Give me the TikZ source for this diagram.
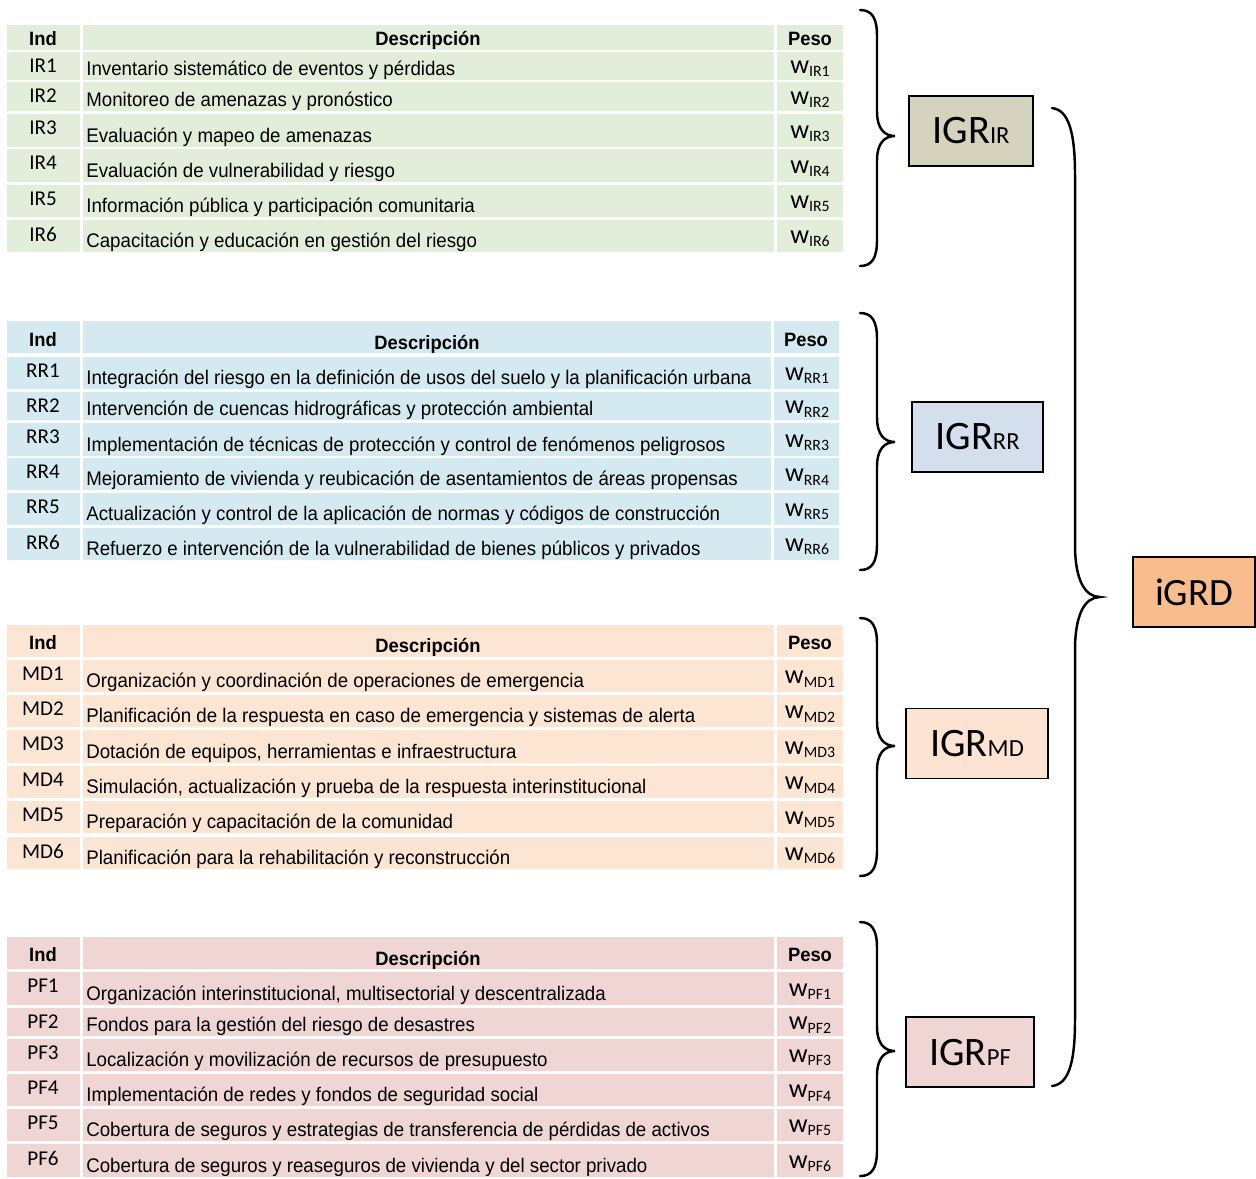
\documentclass[tikz,border=0pt]{standalone}
\usepackage{fontspec}
\setmainfont{Carlito}
\newfontfamily\descfont[FakeStretch=0.95]{Liberation Sans}
\usetikzlibrary{positioning}

\definecolor{irfill}{HTML}{E3EEDA}
\definecolor{rrfill}{HTML}{D4EAF0}
\definecolor{mdfill}{HTML}{FDE5D3}
\definecolor{pffill}{HTML}{EFD6D5}
\definecolor{irbox}{HTML}{D5D2BE}
\definecolor{rrbox}{HTML}{D3DFEC}
\definecolor{mdbox}{HTML}{FDE4D2}
\definecolor{pfbox}{HTML}{EFD5D4}
\definecolor{igrdbox}{HTML}{F9BC8C}

\newcommand\wpeso[1]{{\fontsize{15}{15}\selectfont w}\raisebox{-0.4ex}{\fontsize{9}{9}\selectfont #1}}
\newcommand\igrlabel[1]{{\fontsize{23}{23}\selectfont IGR}{\fontsize{14}{14}\selectfont #1}}

\tikzset{
  ind/.style={font=\fontsize{12}{12}\selectfont, inner sep=0pt},
  desc/.style={anchor=west, font=\descfont\fontsize{11.2}{12}\selectfont, inner sep=0pt},
  hdr/.style={font=\descfont\bfseries\fontsize{11}{12}\selectfont, inner sep=0pt},
  pesolabel/.style={inner sep=0pt},
  igr/.style={draw, line width=1.1pt, minimum height=1.4cm, inner sep=0pt},
  llave/.style={line width=1.4pt, line cap=round}
}

\begin{document}
\begin{tikzpicture}[x=0.02cm, y=-0.02cm]

\useasboundingbox (0,0) rectangle (1256,1178);

% Identificacion del riesgo
\fill[irfill] (7,25) rectangle (80,50) (83,25) rectangle (774,50) (777,25) rectangle (843,50);
\node[hdr] (hIR) at (43,39) {Ind};
\node[hdr] at (428,40) {Descripción};
\node[hdr] at (810,39) {Peso};
\foreach \i/\t/\b/\d in {1/52/80/{Inventario sistemático de eventos y pérdidas},
    2/82/111/{Monitoreo de amenazas y pronóstico},
    3/114/147/{Evaluación y mapeo de amenazas},
    4/149/182/{Evaluación de vulnerabilidad y riesgo},
    5/185/217/{Información pública y participación comunitaria},
    6/220/252/{Capacitación y educación en gestión del riesgo}} {
	\fill[irfill] (7,\t) rectangle (80,\b) (83,\t) rectangle (774,\b) (777,\t) rectangle (843,\b);
	\node[ind] (IR\i) at (43,\t+14) {IR\i};
	\node[desc] (dIR\i) at (86,\b-10) {\d};
	\node[pesolabel] (wIR\i) at (810,{(\t+\b)/2+3}) {\wpeso{IR\i}};
}

% Reduccion del riesgo
\fill[rrfill] (7,321) rectangle (80,353) (83,321) rectangle (771,353) (774,321) rectangle (839,353);
\node[hdr] (hRR) at (43,340) {Ind};
\node[hdr] at (427,344) {Descripción};
\node[hdr] at (806,340) {Peso};
\foreach \i/\t/\b/\d in {1/357/389/{Integración del riesgo en la definición de usos del suelo y la planificación urbana},
    2/392/420/{Intervención de cuencas hidrográficas y protección ambiental},
    3/423/456/{Implementación de técnicas de protección y control de fenómenos peligrosos},
    4/458/490/{Mejoramiento de vivienda y reubicación de asentamientos de áreas propensas},
    5/493/525/{Actualización y control de la aplicación de normas y códigos de construcción},
    6/528/560/{Refuerzo e intervención de la vulnerabilidad de bienes públicos y privados}} {
	\fill[rrfill] (7,\t) rectangle (80,\b) (83,\t) rectangle (771,\b) (774,\t) rectangle (839,\b);
	\node[ind] (RR\i) at (43,\t+14) {RR\i};
	\node[desc] (dRR\i) at (86,\b-10) {\d};
	\node[pesolabel] (wRR\i) at (807,{(\t+\b)/2+3}) {\wpeso{RR\i}};
}

% Manejo de desastres
\fill[mdfill] (7,625) rectangle (80,657) (83,625) rectangle (774,657) (777,625) rectangle (843,657);
\node[hdr] (hMD) at (43,643) {Ind};
\node[hdr] at (428,647) {Descripción};
\node[hdr] at (810,643) {Peso};
\foreach \i/\t/\b/\d in {1/660/692/{Organización y coordinación de operaciones de emergencia},
    2/695/727/{Planificación de la respuesta en caso de emergencia y sistemas de alerta},
    3/730/763/{Dotación de equipos, herramientas e infraestructura},
    4/766/798/{Simulación, actualización y prueba de la respuesta interinstitucional},
    5/801/833/{Preparación y capacitación de la comunidad},
    6/837/869/{Planificación para la rehabilitación y reconstrucción}} {
	\fill[mdfill] (7,\t) rectangle (80,\b) (83,\t) rectangle (774,\b) (777,\t) rectangle (843,\b);
	\node[ind] (MD\i) at (43,\t+14) {MD\i};
	\node[desc] (dMD\i) at (86,\b-10) {\d};
	\node[pesolabel] (wMD\i) at (810,{(\t+\b)/2+3}) {\wpeso{MD\i}};
}

% Proteccion financiera
\fill[pffill] (7,937) rectangle (80,969) (83,937) rectangle (774,969) (777,937) rectangle (843,969);
\node[hdr] (hPF) at (43,955) {Ind};
\node[hdr] at (428,960) {Descripción};
\node[hdr] at (810,955) {Peso};
\foreach \i/\t/\b/\d in {1/972/1005/{Organización interinstitucional, multisectorial y descentralizada},
    2/1008/1036/{Fondos para la gestión del riesgo de desastres},
    3/1039/1071/{Localización y movilización de recursos de presupuesto},
    4/1074/1106/{Implementación de redes y fondos de seguridad social},
    5/1109/1141/{Cobertura de seguros y estrategias de transferencia de pérdidas de activos},
    6/1144/1177/{Cobertura de seguros y reaseguros de vivienda y del sector privado}} {
	\fill[pffill] (7,\t) rectangle (80,\b) (83,\t) rectangle (774,\b) (777,\t) rectangle (843,\b);
	\node[ind] (PF\i) at (43,\t+14) {PF\i};
	\node[desc] (dPF\i) at (86,\b-10) {\d};
	\node[pesolabel] (wPF\i) at (810,{(\t+\b)/2+3}) {\wpeso{PF\i}};
}

% Indicadores compuestos
\node[igr, fill=irbox, minimum width=2.48cm] (IGRir) at (971,131) {\igrlabel{IR}};
\node[igr, fill=rrbox, minimum width=2.62cm] (IGRrr) at (977.5,437) {\igrlabel{RR}};
\node[igr, fill=mdbox, minimum width=2.84cm] (IGRmd) at (977,743.5) {\igrlabel{MD}};
\node[igr, fill=pfbox, minimum width=2.56cm] (IGRpf) at (970,1052) {\igrlabel{PF}};
\node[igr, fill=igrdbox, minimum width=2.44cm] (iGRD) at (1194,592) {\fontsize{22}{22}\selectfont iGRD};

% Llaves
\foreach \yt/\ym/\yb in {10/136/266, 313/442/570, 618/746/876, 922/1051/1176} {
	\draw[llave] (860,\yt) .. controls (872,\yt) and (877,\yt+8) .. (877,\yt+26)
		-- (877,\ym-24) .. controls (877,\ym-8) and (884,\ym) .. (895,\ym)
		.. controls (884,\ym) and (877,\ym+8) .. (877,\ym+24)
		-- (877,\yb-26) .. controls (877,\yb-8) and (872,\yb) .. (860,\yb);
}

\draw[llave] (1052,108) .. controls (1068,110) and (1075,130) .. (1075,175)
	-- (1075,545) .. controls (1075,580) and (1085,597) .. (1100,597)
	.. controls (1085,597) and (1075,614) .. (1075,650)
	-- (1075,1020) .. controls (1075,1065) and (1068,1084) .. (1052,1086);

\end{tikzpicture}
\end{document}
